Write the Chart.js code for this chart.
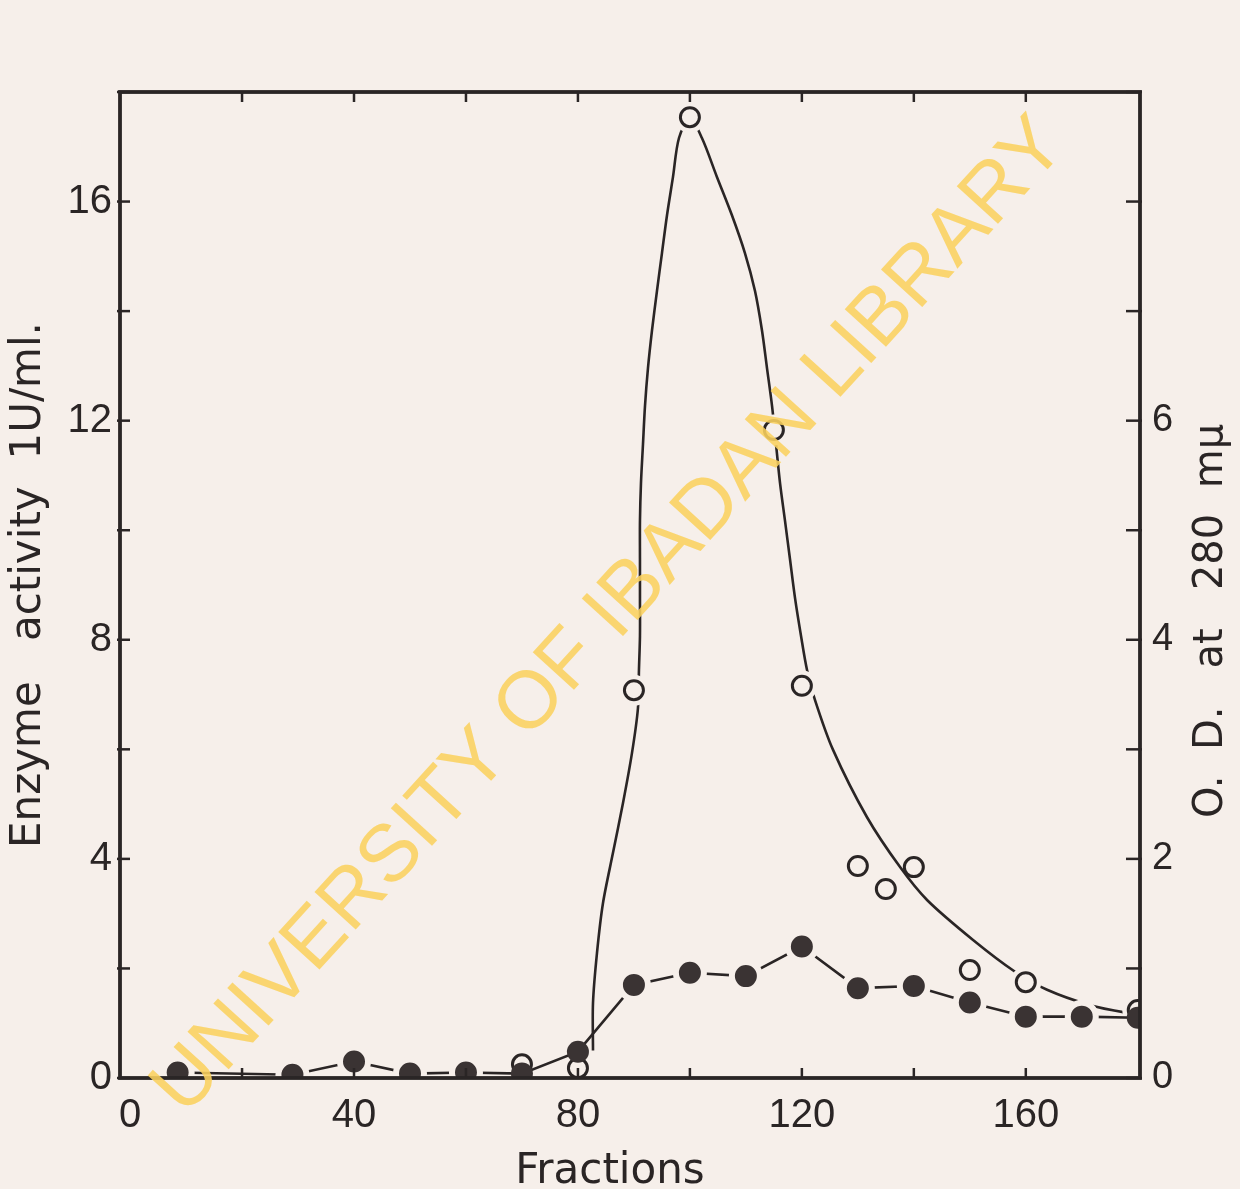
<!DOCTYPE html>
<html><head><meta charset="utf-8">
<script src="https://cdn.jsdelivr.net/npm/chart.js@4.4.1/dist/chart.umd.min.js"></script>
<style>html,body{margin:0;padding:0;background:#f6efea;}#wrap{width:1240px;height:1189px;position:relative;}</style>
</head><body><div id="wrap"><canvas id="c" width="1240" height="1189"></canvas></div>
<script>
// ---- data ----
const fractionsOpen   = [70, 80, 90, 100, 115, 120, 130, 135, 140, 150, 160, 180];
const enzymeActivity  = [0.25, 0.18, 7.08, 17.54, 11.83, 7.16, 3.87, 3.45, 3.85, 1.97, 1.75, 1.24];
const fractionsFilled = [8.5, 29, 40, 50, 60, 70, 80, 90, 100, 110, 120, 130, 140, 150, 160, 170, 180];
const odValues        = [0.05, 0.03, 0.15, 0.04, 0.05, 0.04, 0.24, 0.85, 0.96, 0.93, 1.2, 0.82, 0.84, 0.69, 0.56, 0.56, 0.55];
// hand-drawn curve through the enzyme activity peak
const curveX = [82.69, 82.69, 83.40, 84.47, 86.26, 88.05, 89.65, 90.72, 90.90, 91.08, 91.08, 91.08, 91.08, 91.26, 91.62, 91.98, 92.51, 93.23, 94.12, 95.01, 95.91, 96.98, 98.05, 100.0,
                102.15, 104.83, 107.51, 109.83, 111.62, 112.87, 113.77, 114.67, 115.38, 116.10, 116.99, 117.88, 118.78, 119.85, 120.92, 122.35, 125.57, 131.64, 137.54, 142.36, 150.58, 158.08, 163.80, 171.48, 178.09, 180.4];
const curveY = [0.5, 1.37, 2.28, 3.19, 4.11, 5.02, 5.93, 6.75, 7.45, 8.07, 8.76, 9.47, 10.17, 10.86, 11.57, 12.27, 12.96, 13.65, 14.37, 15.06, 15.75, 16.45, 17.16, 17.52,
                17.16, 16.45, 15.75, 15.06, 14.37, 13.65, 12.96, 12.27, 11.57, 10.86, 10.17, 9.47, 8.76, 8.07, 7.45, 6.90, 5.99, 4.76, 3.85, 3.25, 2.52, 1.94, 1.61, 1.33, 1.19, 1.17];
const xTickValues     = [0, 20, 40, 60, 80, 100, 120, 140, 160, 180];
const xTickLabels     = ['0', '40', '80', '120', '160'];
const leftTickValues  = [0, 2, 4, 6, 8, 10, 12, 14, 16, 18];
const leftTickLabels  = ['0', '4', '8', '12', '16'];
const rightTickValues = [0, 1, 2, 3, 4, 5, 6, 7, 8, 9];
const rightTickLabels = ['0', '2', '4', '6'];
const xTitle = 'Fractions';
const leftTitle = 'Enzyme   activity  1U/ml.';
const rightTitle = 'O.  D.   at   280  m\u03bc';
const watermark = 'UNIVERSITY OF IBADAN LIBRARY';

const PAPER = '#f6efea';
const INK = '#2a2525';
const TICKFONT = '"Liberation Sans", Arial, sans-serif';
const TITLEFONT = '"DejaVu Sans", sans-serif';

const toPts = (xs, ys) => xs.map((x, i) => ({x: x, y: ys[i]}));
const onCurve = fractionsOpen.map(f => [90, 100, 115, 120, 160, 180].includes(f) ? 15.5 : 0);
const nearOpen = fractionsFilled.map(f => [70, 80, 180].includes(f));

const framePlugin = {
  id: 'frame',
  afterDraw(chart) {
    const {ctx, chartArea: a, scales} = chart;
    ctx.save();
    ctx.strokeStyle = INK;
    ctx.lineCap = 'butt';
    ctx.lineWidth = 2.5;
    scales.x.ticks.forEach(t => {
      const px = scales.x.getPixelForValue(t.value);
      if (px - a.left < 12 || a.right - px < 12) return;
      ctx.beginPath(); ctx.moveTo(px, a.bottom); ctx.lineTo(px, a.bottom - 10); ctx.stroke();
      ctx.beginPath(); ctx.moveTo(px, a.top); ctx.lineTo(px, a.top + 10); ctx.stroke();
    });
    scales.y.ticks.forEach(t => {
      const py = scales.y.getPixelForValue(t.value);
      ctx.beginPath(); ctx.moveTo(a.left - 3, py); ctx.lineTo(a.left + 10, py); ctx.stroke();
    });
    scales.y2.ticks.forEach(t => {
      const py = scales.y2.getPixelForValue(t.value);
      ctx.beginPath(); ctx.moveTo(a.right + 2, py); ctx.lineTo(a.right - 14, py); ctx.stroke();
    });
    ctx.lineWidth = 3.8;
    ctx.strokeRect(a.left, a.top, a.right - a.left, a.bottom - a.top);
    // right axis title (reads bottom to top)
    ctx.fillStyle = INK;
    ctx.font = '40px ' + TITLEFONT;
    ctx.textAlign = 'center';
    ctx.textBaseline = 'middle';
    ctx.translate(1212, 621);
    ctx.rotate(-Math.PI / 2);
    ctx.fillText(rightTitle, 0, 0);
    ctx.restore();
    // watermark
    ctx.save();
    ctx.translate(610, 617);
    ctx.rotate(-47.7 * Math.PI / 180);
    ctx.font = '81px "Liberation Sans", Arial, sans-serif';
    ctx.fillStyle = 'rgba(250, 210, 95, 0.88)';
    ctx.textAlign = 'center';
    ctx.textBaseline = 'middle';
    ctx.fillText(watermark, 0, 0);
    ctx.restore();
  }
};

const bgPlugin = {
  id: 'bg',
  beforeDraw(chart) {
    const ctx = chart.ctx;
    ctx.save(); ctx.fillStyle = PAPER; ctx.fillRect(0, 0, chart.width, chart.height); ctx.restore();
  }
};

const setTicks = vals => s => { s.ticks = vals.map(v => ({ value: v })); };

new Chart(document.getElementById('c'), {
  type: 'scatter',
  data: {
    datasets: [
      { label: 'O.D. at 280 m\u03bc', data: toPts(fractionsFilled, odValues), yAxisID: 'y2', order: 0,
        showLine: true, borderColor: INK, borderWidth: 2.6, tension: 0,
        pointRadius: nearOpen.map(n => n ? 11 : 14), pointBorderWidth: nearOpen.map(n => n ? 0 : 6),
        pointBackgroundColor: '#3a3333', pointBorderColor: PAPER },
      { label: 'Enzyme activity', data: toPts(fractionsOpen, enzymeActivity), yAxisID: 'y', order: 1,
        showLine: false, pointRadius: 9.5, pointBorderWidth: 3, pointBackgroundColor: PAPER, pointBorderColor: INK },
      { label: 'gap', data: toPts(fractionsOpen, enzymeActivity), yAxisID: 'y', order: 2,
        showLine: false, pointRadius: onCurve, pointBorderWidth: 0, pointBackgroundColor: PAPER, pointBorderColor: PAPER },
      { label: 'Enzyme activity curve', data: toPts(curveX, curveY), yAxisID: 'y', order: 3,
        showLine: true, borderColor: INK, borderWidth: 2.6, tension: 0.3, pointRadius: 0 }
    ]
  },
  options: {
    responsive: false, animation: false,
    layout: { padding: { top: 92, left: 0, right: 0, bottom: 0 } },
    plugins: { legend: { display: false }, tooltip: { enabled: false } },
    scales: {
      x: { type: 'linear', position: 'bottom', min: -1.8, max: 180.4, offset: false,
        afterBuildTicks: setTicks(xTickValues),
        afterFit(s) { s.height = 111; },
        grid: { display: false, drawTicks: false }, border: { display: false },
        ticks: { autoSkip: false, maxRotation: 0, padding: 14, color: INK,
          font: { family: TICKFONT, size: 40 },
          callback: v => xTickLabels.includes(String(v)) ? String(v) : '' },
        title: { display: true, text: xTitle + '   ', color: INK, font: { family: TITLEFONT, size: 42, lineHeight: 1 }, padding: { top: 0, bottom: -4 } } },
      y: { type: 'linear', position: 'left', min: 0, max: 18,
        afterBuildTicks: setTicks(leftTickValues),
        afterFit(s) { s.width = 120; },
        grid: { display: false, drawTicks: false }, border: { display: false },
        ticks: { autoSkip: false, padding: 8, color: INK, font: { family: TICKFONT, size: 40 },
          callback: v => leftTickLabels.includes(String(v)) ? String(v) : '' },
        title: { display: true, text: leftTitle, color: INK, font: { family: TITLEFONT, size: 42 }, padding: { top: 4, bottom: 0 } } },
      y2: { type: 'linear', position: 'right', min: 0, max: 9,
        afterBuildTicks: setTicks(rightTickValues),
        afterFit(s) { s.width = 100; },
        grid: { display: false, drawTicks: false, drawOnChartArea: false }, border: { display: false },
        ticks: { autoSkip: false, padding: 12, color: INK, font: { family: TICKFONT, size: 38 },
          callback: v => rightTickLabels.includes(String(v)) ? String(v) : '' } }
    }
  },
  plugins: [bgPlugin, framePlugin]
});
</script></body></html>
